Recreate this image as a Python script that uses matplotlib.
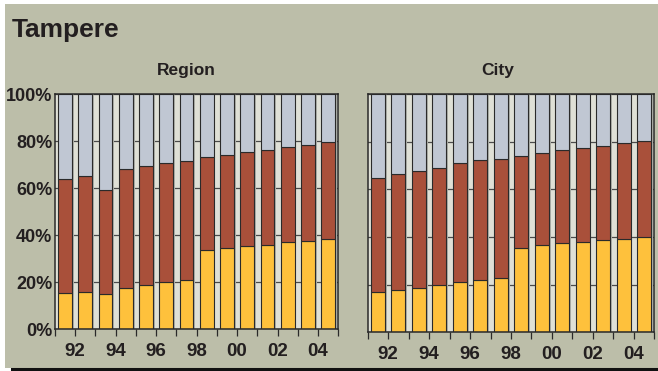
import matplotlib
matplotlib.use("Agg")
import matplotlib.pyplot as plt
from matplotlib.patches import Rectangle
from matplotlib.lines import Line2D
import numpy as np

plt.rcParams['font.family'] = ['Liberation Sans', 'DejaVu Sans']

# Data: shares (%) of the three groups, 1991-2004
years = list(range(1991, 2005))
tick_labels = ["92", "94", "96", "98", "00", "02", "04"]

region_bottom = [15.3, 16.0, 14.9, 17.7, 19.0, 20.0, 20.9, 33.6, 34.5, 35.5, 36.0, 37.0, 37.4, 38.3]
region_cum_mid = [64.0, 65.1, 59.1, 68.1, 69.6, 70.8, 71.8, 73.2, 74.2, 75.5, 76.5, 77.6, 78.4, 79.6]

city_bottom = [16.9, 17.6, 18.6, 19.7, 21.0, 22.0, 22.8, 35.5, 36.5, 37.3, 37.8, 38.6, 39.3, 39.9]
city_cum_mid = [64.8, 66.3, 67.7, 69.0, 70.9, 72.2, 72.7, 74.1, 75.2, 76.4, 77.3, 78.3, 79.4, 80.1]

BG = "#bcbea9"
GAP = "#dfe0d6"
YELLOW = "#fec13c"
RED = "#a9503a"
BLUE = "#c0c7d3"
SHADOW = "#aeb0a8"
EDGE = "#2a2a2a"
TEXT = "#231f20"

W, H = 658, 371
fig = plt.figure(figsize=(W / 100, H / 100), dpi=100, facecolor="white")

# Panel background and bottom rule
fig.patches.append(Rectangle((5 / W, 3 / H), 1 - 5 / W, (368 - 4) / H,
                             transform=fig.transFigure, facecolor=BG,
                             edgecolor="none", zorder=-10))
fig.lines.append(Line2D([12 / W, 1], [1.6 / H, 1.6 / H], transform=fig.transFigure,
                        color="#111111", linewidth=2.2, zorder=-5))

fig.text(12 / W, 1 - 37 / H, "Tampere", fontsize=19, fontweight="bold",
         color=TEXT, ha="left", va="baseline")


def draw_panel(rect, title, title_x, bottom, cum_mid, show_y):
    ax = fig.add_axes(rect)
    ax.set_facecolor(GAP)
    n = len(bottom)
    x = np.arange(n) + 0.5
    bw = 0.68
    b = np.array(bottom)
    m = np.array(cum_mid) - b
    t = 100 - np.array(cum_mid)
    # shadow behind each bar
    ax.bar(x + 0.09, [100] * n, width=bw, color=SHADOW, edgecolor="none", zorder=1)
    kw = dict(width=bw, edgecolor=EDGE, linewidth=0.8, zorder=2)
    ax.bar(x, b, color=YELLOW, **kw)
    ax.bar(x, m, bottom=b, color=RED, **kw)
    ax.bar(x, t, bottom=b + m, color=BLUE, **kw)

    ax.set_xlim(0, n)
    ax.set_ylim(0, 100)
    ax.set_yticks([0, 20, 40, 60, 80, 100])
    ax.yaxis.grid(True, color="#4a4a4a", linewidth=0.9, zorder=0.5)
    ax.set_axisbelow(True)
    ax.set_xticks(np.arange(0, n + 1))
    labels = [""] * (n + 1)
    for i, lab in zip(range(1, n, 2), tick_labels):
        labels[i] = lab
    ax.set_xticklabels(labels, fontsize=13.5, fontweight="bold", color=TEXT)
    ax.tick_params(axis="x", length=5, width=0.9, color=EDGE, pad=5)
    if show_y:
        ax.set_yticklabels([f"{v}%" for v in [0, 20, 40, 60, 80, 100]],
                           fontsize=13, fontweight="bold", color=TEXT)
        ax.tick_params(axis="y", length=0, pad=2)
    else:
        ax.tick_params(axis="y", length=0, labelleft=False)
    for s in ax.spines.values():
        s.set_color(EDGE)
        s.set_linewidth(1.1)
    fig.text(title_x / W, 1 - 75 / H, title, fontsize=12.5, fontweight="bold",
             color=TEXT, ha="center", va="baseline")
    return ax


draw_panel([55 / W, (H - 329.3) / H, (338.3 - 55) / W, (329.3 - 94.3) / H],
           "Region", 186.5, region_bottom, region_cum_mid, True)
draw_panel([367.7 / W, (H - 332.3) / H, (654.3 - 367.7) / W, (332.3 - 94) / H],
           "City", 498, city_bottom, city_cum_mid, False)

fig.savefig("out.png", dpi=100, facecolor=fig.get_facecolor())
